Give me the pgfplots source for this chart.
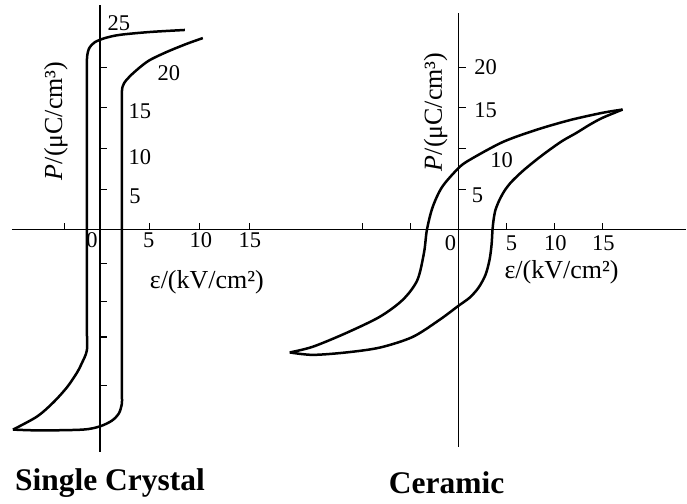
\documentclass[border=0pt]{standalone}
\usepackage{pgfplots}
\pgfplotsset{compat=1.18}
\usepackage{fontspec}
\setmainfont{Liberation Serif}

% font sizes used for the figure
\newcommand{\ticktxt}{\fontsize{22.5}{26}\selectfont}
\newcommand{\labtxt}{\fontsize{26}{30}\selectfont}
\newcommand{\ttltxt}{\fontsize{31.5}{36}\selectfont\bfseries}

\pgfplotsset{
  loopaxis/.style={
    axis lines=middle,
    axis line style={-, line width=1.3pt, black},
    tick style={line width=1.1pt, black},
    major tick length=7pt,
    tick align=center,
    % ticks sit on the right of the P axis and above the field axis
    ytick style={xshift=3.5pt},
    xtick style={yshift=3.5pt},
    xticklabels={}, yticklabels={},
    y=8.13pt,
    clip=false,
  },
  loop/.style={black, line width=2.5pt, smooth, tension=0.5, no marks},
}

\begin{document}
\begin{tikzpicture}
\path (0pt,0pt) rectangle (687pt,504pt);

% ---------------- single crystal ----------------
\begin{axis}[loopaxis, x=10pt, at={(100pt,274pt)}, anchor=origin,
  xmin=-8.8, xmax=19, ymin=-27.3, ymax=27.7,
  xtick={-3.5,5,10,15},
  ytick={-19.2,-13.2,-8.8,-4.2,5,10,15,20}]
% descending branch
\addplot[loop] coordinates {
  (8.5,24.6) (5.0,24.35) (2.0,24.0) (0.5,23.6) (-0.5,23.1) (-1.0,22.5)
  (-1.2,21.9) (-1.3,20.9) (-1.3,18) (-1.3,0) (-1.3,-12) (-1.3,-14.8)
  (-1.8,-16.4) (-2.3,-17.6) (-3.3,-19.4) (-4.7,-21.3) (-6.3,-23.0) (-8.7,-24.6)
};
% ascending branch
\addplot[loop] coordinates {
  (-8.7,-24.6) (-6.0,-24.7) (-1.7,-24.6) (0,-24.2) (1.2,-23.5) (1.9,-22.6)
  (2.2,-21.4) (2.2,-20.3) (2.2,-17) (2.2,0) (2.2,14) (2.2,17.0) (2.4,18.0)
  (3.0,18.9) (4.0,20.0) (5.0,20.9) (6.7,21.9) (8.7,22.9) (10.3,23.6)
};
\end{axis}

% ---------------- ceramic ----------------
\begin{axis}[loopaxis, x=9.6pt, at={(459pt,274pt)}, anchor=origin,
  xmin=-18.6, xmax=23.75, ymin=-26.7, ymax=26.7,
  xtick={-10,-5,5,10,15},
  ytick={5,10,15,20}]
% descending branch
\addplot[loop] coordinates {
  (17.1,14.8) (15.0,14.4) (11.6,13.5) (8.1,12.3) (4.6,10.8) (1.15,8.6)
  (0,7.6) (-1.7,5.3) (-2.7,2.8) (-3.3,0) (-3.6,-2.8) (-4.3,-6.2) (-5.8,-8.6)
  (-8.2,-10.7) (-11.7,-12.7) (-15.2,-14.4) (-17.6,-15.1)
};
% ascending branch
\addplot[loop] coordinates {
  (-17.6,-15.1) (-15.2,-15.4) (-11.7,-15.1) (-8.2,-14.5) (-4.8,-13.2)
  (-2.0,-11.1) (0,-9.35) (1.15,-8.36) (2.08,-7.13) (2.81,-5.54)
  (3.23,-3.69) (3.44,-1.85) (3.54,0) (3.65,1.23) (3.85,2.46) (4.27,3.69)
  (4.79,4.8) (5.42,5.78) (6.25,6.76) (7.08,7.63) (8.23,8.73) (9.48,9.84)
  (10.83,10.95) (12.29,11.93) (13.65,12.92) (15.0,13.78) (17.1,14.8)
};
\end{axis}

% ---------------- labels: single crystal ----------------
\node[font=\ticktxt] at (119pt,481pt) {25};
\node[font=\ticktxt] at (169pt,431pt) {20};
\node[font=\ticktxt] at (140pt,393pt) {15};
\node[font=\ticktxt] at (140pt,347pt) {10};
\node[font=\ticktxt] at (135pt,308pt) {5};
\node[font=\ticktxt] at (92pt,264pt) {0};
\node[font=\ticktxt] at (149pt,264pt) {5};
\node[font=\ticktxt] at (201pt,264pt) {10};
\node[font=\ticktxt] at (250pt,264pt) {15};
\node[font=\labtxt] at (207pt,221pt) {ε/(kV/cm²)};
\node[font=\labtxt, rotate=90] at (56pt,383pt) {\textit{P}/(μC/cm³)};
\node[font=\ttltxt] at (110pt,20pt) {Single Crystal};

% ---------------- labels: ceramic ----------------
\node[font=\ticktxt] at (486pt,437pt) {20};
\node[font=\ticktxt] at (486pt,394pt) {15};
\node[font=\ticktxt] at (502pt,344pt) {10};
\node[font=\ticktxt] at (478pt,309pt) {5};
\node[font=\ticktxt] at (451pt,261pt) {0};
\node[font=\ticktxt] at (512pt,261pt) {5};
\node[font=\ticktxt] at (556pt,261pt) {10};
\node[font=\ticktxt] at (604pt,261pt) {15};
\node[font=\labtxt] at (562pt,231pt) {ε/(kV/cm²)};
\node[font=\labtxt, rotate=90] at (436pt,392pt) {\textit{P}/(μC/cm³)};
\node[font=\ttltxt] at (447pt,21pt) {Ceramic};
\end{tikzpicture}
\end{document}
